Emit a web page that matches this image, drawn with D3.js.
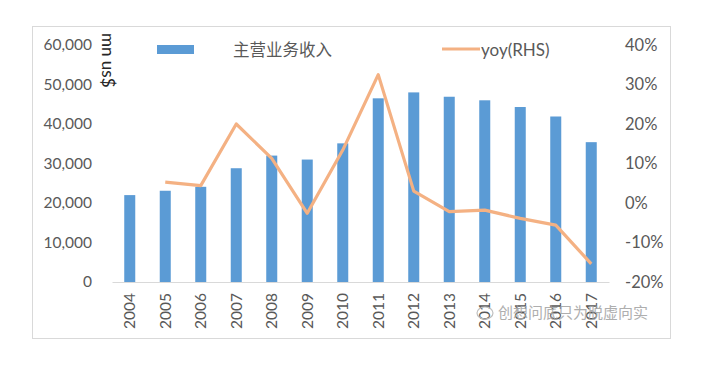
<!DOCTYPE html>
<html><head><meta charset="utf-8">
<script src="https://cdn.jsdelivr.net/npm/d3@7"></script>
<style>html,body{margin:0;padding:0;background:#fff;}svg{display:block;}</style>
</head><body>
<svg id="c" width="713" height="365"></svg>
<script>
const years = ["2004","2005","2006","2007","2008","2009","2010","2011","2012","2013","2014","2015","2016","2017"];
const revenue = [22000,23100,24100,28800,32000,31000,35100,46500,48000,46900,46000,44300,41900,35400];
const yoyYears = ["2005","2006","2007","2008","2009","2010","2011","2012","2013","2014","2015","2016","2017"];
const yoy = [5.3,4.4,20.0,11.3,-2.6,13.4,32.5,3.0,-2.2,-1.8,-3.9,-5.6,-15.4];
const leftTicks = [0,10000,20000,30000,40000,50000,60000];
const rightTicks = [-20,-10,0,10,20,30,40];

const svg = d3.select("#c");
const font = "Lato, 'Noto Sans', sans-serif";
const textColor = "#595959";

svg.append("rect").attr("x",32.5).attr("y",26.5).attr("width",638).attr("height",312)
  .attr("fill","#fff").attr("stroke","#d9d9d9").attr("stroke-width",1);

const x = d3.scaleBand().domain(years).range([112,609]).paddingInner(0.69).paddingOuter(0.345);
const yL = d3.scaleLinear().domain([0,60000]).range([282,45]);
const yR = d3.scaleLinear().domain([-20,40]).range([282,45]);

// bars
svg.append("g").selectAll("rect").data(years).join("rect")
  .attr("x",d=>x(d)).attr("width",x.bandwidth())
  .attr("y",(d,i)=>yL(revenue[i])).attr("height",(d,i)=>yL(0)-yL(revenue[i]))
  .attr("fill","#5b9bd5");

// left axis
const gl = svg.append("g").attr("transform","translate(112,0)")
  .call(d3.axisLeft(yL).tickValues(leftTicks).tickSize(0).tickPadding(20).tickFormat(d3.format(",")));
gl.select(".domain").remove();
gl.selectAll("text").attr("font-family",font).attr("font-size",15.5).attr("fill",textColor);

// right axis
const gr = svg.append("g").attr("transform","translate(609,0)")
  .call(d3.axisRight(yR).tickValues(rightTicks).tickSize(0).tickPadding(16).tickFormat(d=>d+"%"));
gr.select(".domain").remove();
gr.selectAll("text").attr("font-family",font).attr("font-size",16.5).attr("fill",textColor);

// bottom axis
const gb = svg.append("g").attr("transform","translate(0,282)")
  .call(d3.axisBottom(x).tickSize(0).tickPadding(0));
gb.select(".domain").attr("stroke","#d9d9d9").attr("stroke-width",1.2);
gb.selectAll("text").attr("font-family",font).attr("font-size",15.5).attr("fill",textColor)
  .attr("transform","rotate(-90)").attr("text-anchor","end").attr("dy","0.35em")
  .attr("x",-11).attr("y",0);

// line
const line = d3.line().x(d=>x(d.y)+x.bandwidth()/2).y(d=>yR(d.v));
svg.append("path").datum(yoyYears.map((y,i)=>({y:y,v:yoy[i]})))
  .attr("d",line).attr("fill","none").attr("stroke","#f4b183").attr("stroke-width",3.2)
  .attr("stroke-linejoin","round");

// axis title
svg.append("text").attr("transform","translate(101,33) rotate(90)")
  .attr("font-family",font).attr("font-size",17).attr("fill","#262626")
  .attr("dy","-0.05em").text("mn us$");

// legend
svg.append("rect").attr("x",157).attr("y",45).attr("width",37).attr("height",9).attr("fill","#5b9bd5");
svg.append("text").attr("x",233).attr("y",50).attr("dy","0.35em")
  .attr("font-family","'Noto Sans CJK SC', sans-serif").attr("font-size",16.5).attr("fill",textColor).text("主营业务收入");
svg.append("line").attr("x1",442).attr("x2",480).attr("y1",49).attr("y2",49)
  .attr("stroke","#f4b183").attr("stroke-width",3.2);
svg.append("text").attr("x",481).attr("y",50).attr("dy","0.35em")
  .attr("font-family",font).attr("font-size",17).attr("fill",textColor).text("yoy(RHS)");

// watermark
svg.append("text").attr("x",498).attr("y",313).attr("dy","0.35em")
  .attr("font-family","'Noto Sans CJK SC', sans-serif").attr("font-size",15).attr("fill","#a6a6a6").attr("opacity",0.9)
  .text("创想问底只为脱虚向实");
svg.append("ellipse").attr("cx",485).attr("cy",313).attr("rx",8).attr("ry",6)
  .attr("fill","none").attr("stroke","#bfbfbf").attr("stroke-width",1.2);
</script>
</body></html>
